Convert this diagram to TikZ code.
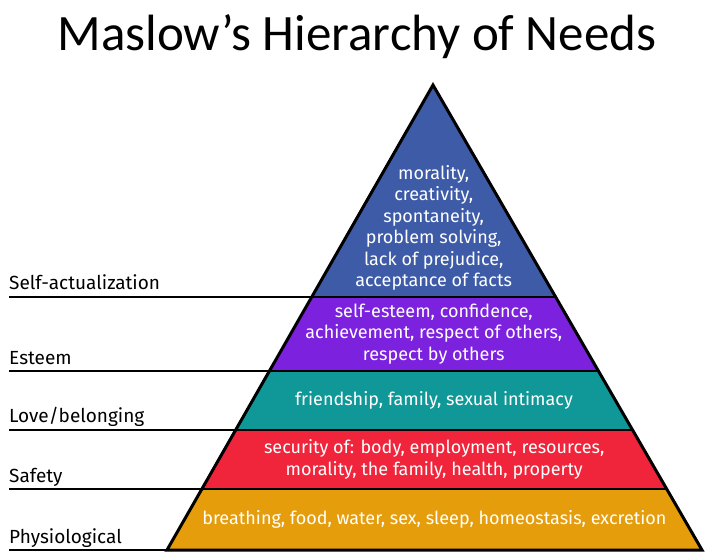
\documentclass[tikz,border=0pt]{standalone}
\usepackage{fontspec}
\setmainfont{Carlito}
\newfontfamily\needfont{Fira Sans}
\usetikzlibrary{calc, positioning}
\definecolor{LV1}{RGB}{62,91,168}
\definecolor{LV2}{RGB}{124,34,222}
\definecolor{LV3}{RGB}{16,152,152}
\definecolor{LV4}{RGB}{240,36,58}
\definecolor{LV5}{RGB}{229,157,12}

\begin{document}
\begin{tikzpicture}[x=1pt, y=-1pt,
  lvl/.style={font=\needfont\fontsize{19}{22}\selectfont, anchor=base west,
              inner sep=0pt},
  need/.style={font=\needfont\fontsize{18}{21.5}\selectfont, text=white,
               align=center, inner sep=0pt},
  rule/.style={line width=1.6pt}
]
\useasboundingbox (0,0) rectangle (710,557);
% Title
\node[font=\fontsize{51}{60}\selectfont, anchor=base] (title) at (357,50)
  {Maslow’s Hierarchy of Needs};

% Pyramid corners
\coordinate (apex) at (433,85);
\coordinate (bl) at (167,550);
\coordinate (br) at (702,550);
\coordinate (lx) at (9,0);

% Band boundaries (fraction of the height from the apex)
\foreach \n/\t in {0/0,1/0.4559,2/0.6151,3/0.7419,4/0.8688,5/1}{
  \coordinate (L\n) at ($(apex)!\t!(bl)$);
  \coordinate (R\n) at ($(apex)!\t!(br)$);
  \coordinate (m\n) at ($(L\n)!0.5!(R\n)$);
}

% Bands
\fill[LV1] (apex) -- (R1) -- (L1) -- cycle;
\foreach \a/\b/\c in {1/2/LV2,2/3/LV3,3/4/LV4,4/5/LV5}{
  \fill[\c] (L\a) -- (R\a) -- (R\b) -- (L\b) -- cycle;
}
\foreach \n in {1,...,4}{
  \draw[line width=2pt] (L\n) -- (R\n);
}
\draw[line width=3pt] (apex) -- (br) -- (bl) -- cycle;

% Level rules and labels
\foreach \n in {1,...,5}{
  \draw[rule] (L\n -| lx) -- (L\n);
}
\foreach \n/\txt in {1/Self-actualization,2/Esteem,3/{Love/belonging},4/Safety,5/Physiological}{
  \node[lvl] (lbl\n) at ($(L\n -| lx)+(0,-7)$) {\txt};
}

% Needs in each band
\node[need, anchor=south] (n1) at ($(m1)+(0,-6)$)
  {morality,\\creativity,\\spontaneity,\\problem solving,\\lack of prejudice,\\acceptance of facts};
\node[need] (n2) at ($(m1)!0.5!(m2)$)
  {self-esteem, confidence,\\achievement, respect of others,\\respect by others};
\node[need] (n3) at ($(m2)!0.5!(m3)$)
  {friendship, family, sexual intimacy};
\node[need] (n4) at ($(m3)!0.5!(m4)$)
  {security of: body, employment, resources,\\morality, the family, health, property};
\node[need] (n5) at ($(m4)!0.5!(m5)$)
  {breathing, food, water, sex, sleep, homeostasis, excretion};
\end{tikzpicture}
\end{document}
